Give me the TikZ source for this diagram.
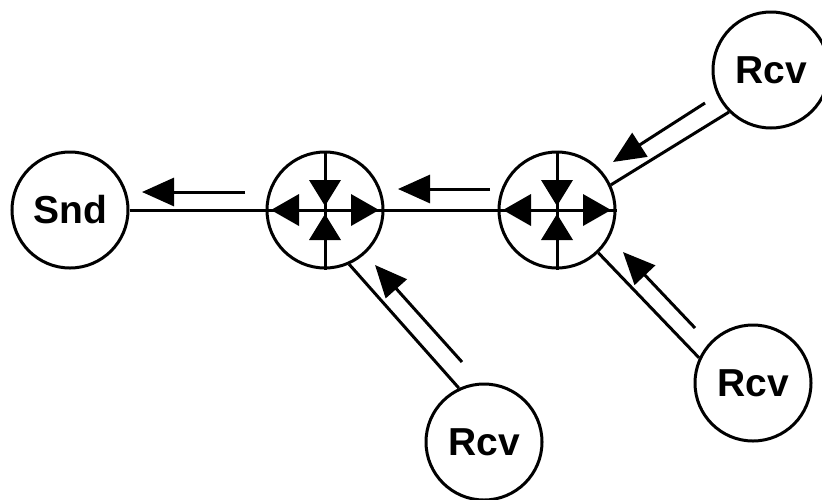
\documentclass[tikz,border=0pt]{standalone}
\usepackage{fontspec}
\setmainfont{Liberation Sans}
\usetikzlibrary{arrows.meta}
\begin{document}
\begin{tikzpicture}[x=1pt,y=-1pt,
  host/.style={circle,draw,line width=3pt,minimum size=116pt,inner sep=0pt,
    font=\fontsize{39}{42}\selectfont\bfseries},
  router/.style={circle,draw,line width=3pt,minimum size=116pt,inner sep=0pt},
  link/.style={line width=3pt},
  flow/.style={line width=3pt,-{Triangle[length=32pt,width=28pt]}},
  tri/.style={fill=black}]
\useasboundingbox (0,0) rectangle (822,499);
\node[host] (snd) at (70,210) {Snd};
\node[router] (r1) at (325,210) {};
\node[router] (r2) at (557,210) {};
\node[host] (rcvA) at (771,70) {Rcv};
\node[host] (rcvB) at (753,383) {Rcv};
\node[host] (rcvC) at (484,442) {Rcv};
% links
\draw[link] (snd) -- (r1);
\draw[link] (r1) -- (r2);
\draw[link] (r1.-66) -- (rcvC.115);
\draw[link] (r2.-46) -- (rcvB.155);
\draw[link] (r2.25) -- (rcvA.-135);
% router interiors
\foreach \r in {r1,r2}{
  \draw[link] (\r.north) -- (\r.south);
  \draw[link] (\r.west) -- (\r.east);
  \fill[tri] ([shift={(-16,-30)}]\r.center) -- ([shift={(16,-30)}]\r.center) -- ([shift={(0,-4)}]\r.center) -- cycle;
  \fill[tri] ([shift={(-16,30)}]\r.center) -- ([shift={(16,30)}]\r.center) -- ([shift={(0,4)}]\r.center) -- cycle;
  \fill[tri] ([shift={(-26,-16)}]\r.center) -- ([shift={(-26,16)}]\r.center) -- ([shift={(-54,0)}]\r.center) -- cycle;
  \fill[tri] ([shift={(26,-16)}]\r.center) -- ([shift={(26,16)}]\r.center) -- ([shift={(54,0)}]\r.center) -- cycle;
}
% flow arrows
\coordinate (a1s) at (245,192); \coordinate (a1e) at (142,192);
\coordinate (a2s) at (490,189); \coordinate (a2e) at (398,189);
\coordinate (a3s) at (462,362); \coordinate (a3e) at (375,265);
\coordinate (a4s) at (695,328); \coordinate (a4e) at (623,252);
\coordinate (a5s) at (705,103); \coordinate (a5e) at (613,162);
\draw[flow] (a1s) -- (a1e);
\draw[flow] (a2s) -- (a2e);
\draw[flow] (a3s) -- (a3e);
\draw[flow] (a4s) -- (a4e);
\draw[flow] (a5s) -- (a5e);
\end{tikzpicture}
\end{document}
